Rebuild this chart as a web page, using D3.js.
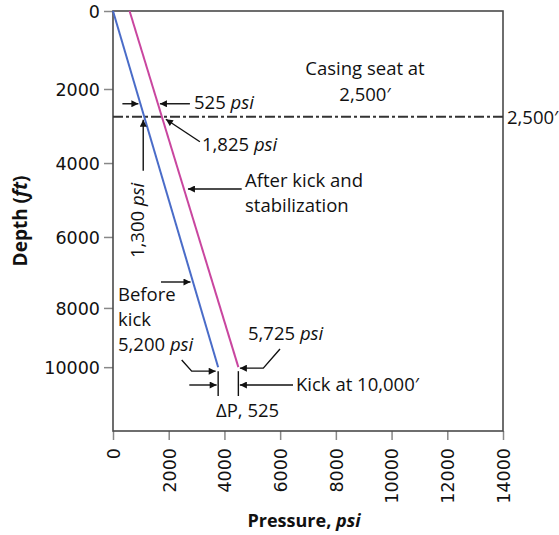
<!DOCTYPE html>
<html><head><meta charset="utf-8">
<script src="https://cdn.jsdelivr.net/npm/d3@7"></script>
<style>
body{margin:0;background:#fff;}
text{font-family:"Open Sans",sans-serif;fill:#111;}
</style></head>
<body><svg id="c" width="559" height="535"></svg>
<script>
// ---- data ----
const xTicks = [0, 2000, 4000, 6000, 8000, 10000, 12000, 14000];
const yTicks = [0, 2000, 4000, 6000, 8000, 10000];
const depthBreaks = [0, 2000, 4000, 6000, 8000, 10000, 12200];
const beforeKick = [{p: 0, d: 0}, {p: 3775, d: 10000}];
const afterKick = [{p: 595, d: 0}, {p: 4500, d: 10000}];
const casingDepth = 2750;

// ---- layout ----
const svg = d3.select("#c");
const L = 113, T = 11, W = 390, H = 420;
const depthFrac = [0, 0.1857, 0.362, 0.538, 0.707, 0.848, 1];
const x = d3.scaleLinear().domain([0, 14000]).range([L, L + W]);
const y = d3.scaleLinear().domain(depthBreaks).range(depthFrac.map(f => T + f * H));

// defs
svg.append("defs").append("marker").attr("id", "ah")
  .attr("viewBox", "0 0 10 10").attr("refX", 10).attr("refY", 5)
  .attr("markerWidth", 8).attr("markerHeight", 7).attr("markerUnits", "userSpaceOnUse")
  .attr("orient", "auto")
  .append("path").attr("d", "M0,0 L10,5 L0,10 Z").attr("fill", "#111");

// axes
const yAxis = d3.axisLeft(y).tickValues(yTicks).tickSize(9).tickFormat(d3.format("d"));
const gy = svg.append("g").attr("transform", `translate(${L},0)`).call(yAxis);
gy.select(".domain").remove();
gy.selectAll(".tick line").attr("stroke", "#888").attr("stroke-width", 1.5);
gy.selectAll(".tick text").attr("x", -13).attr("dy", "0.36em")
  .style("font-family", "DejaVu Sans").style("font-size", "17.5px").attr("fill", "#111");

const xAxis = d3.axisBottom(x).tickValues(xTicks).tickSize(9).tickFormat(d3.format("d"));
const gx = svg.append("g").attr("transform", `translate(0,${T + H})`).call(xAxis);
gx.select(".domain").remove();
gx.selectAll(".tick line").attr("stroke", "#888").attr("stroke-width", 1.5);
gx.selectAll(".tick text").attr("transform", "rotate(-90)")
  .attr("x", -17).attr("y", 0).attr("dy", "0.36em").attr("text-anchor", "end")
  .style("font-family", "DejaVu Sans").style("font-size", "17.5px").attr("fill", "#111");

// frame
svg.append("rect").attr("x", L).attr("y", T).attr("width", W).attr("height", H)
  .attr("fill", "none").attr("stroke", "#4a4a4a").attr("stroke-width", 1.6);

// casing line
const yc = y(casingDepth);
svg.append("line").attr("x1", L).attr("x2", L + W).attr("y1", yc).attr("y2", yc)
  .attr("stroke", "#333").attr("stroke-width", 2).attr("stroke-dasharray", "10,3,3,3");

// pressure lines
const line = d3.line().x(d => x(d.p)).y(d => y(d.d));
svg.append("path").datum(beforeKick).attr("d", line).attr("fill", "none")
  .attr("stroke", "#4a6cc8").attr("stroke-width", 2);
svg.append("path").datum(afterKick).attr("d", line).attr("fill", "none")
  .attr("stroke", "#c9469f").attr("stroke-width", 2);

// helpers
const B0 = [x(beforeKick[0].p), y(beforeKick[0].d)], B1 = [x(beforeKick[1].p), y(beforeKick[1].d)];
const P0 = [x(afterKick[0].p), y(afterKick[0].d)], P1 = [x(afterKick[1].p), y(afterKick[1].d)];
const atY = (a, b, yy) => a[0] + (yy - a[1]) / (b[1] - a[1]) * (b[0] - a[0]);
function arrow(pts) {
  svg.append("path").attr("d", d3.line()(pts)).attr("fill", "none")
    .attr("stroke", "#111").attr("stroke-width", 1.4).attr("marker-end", "url(#ah)");
}
function seg(x1, y1, x2, y2) {
  svg.append("line").attr("x1", x1).attr("y1", y1).attr("x2", x2).attr("y2", y2)
    .attr("stroke", "#111").attr("stroke-width", 1.4);
}
function txt(xx, yy, parts, anchor) {
  const t = svg.append("text").attr("x", xx).attr("y", yy).style("font-size", "18.5px")
    .attr("text-anchor", anchor || "start");
  parts.forEach(p => {
    const s = t.append("tspan").text(p[0]);
    if (p[1]) s.style("font-style", "italic");
  });
  return t;
}

const ya = yc - 13;
arrow([[atY(B0, B1, ya) - 18, ya], [atY(B0, B1, ya) - 2, ya]]);
arrow([[atY(P0, P1, ya) + 32, ya], [atY(P0, P1, ya) + 2, ya]]);
const bc = atY(B0, B1, yc), pc = atY(P0, P1, yc);
arrow([[pc + 38, yc + 25], [pc + 4, yc + 2.5]]);
arrow([[bc - 1, yc + 54], [bc - 1, yc + 3]]);
const yAfter = 189;
arrow([[241.7, yAfter], [atY(P0, P1, yAfter) + 4, yAfter]]);
const yBefore = 282;
arrow([[161, yBefore], [atY(B0, B1, yBefore) - 2.5, yBefore]]);
arrow([[181.7, 360], [191.7, B1[1] + 4], [B1[0] - 2.5, B1[1] + 4]]);
arrow([[280, 349], [263.3, P1[1] + 1], [P1[0] + 1.5, P1[1] + 1]]);
seg(B1[0], B1[1] + 4, B1[0], 396);
seg(P1[0], P1[1] + 4, P1[0], 396);
arrow([[189.3, 385], [B1[0] - 1.5, 385]]);
arrow([[293, 385], [P1[0] + 1.5, 385]]);

// texts
txt(365, 75, [["Casing seat at"]], "middle");
txt(365, 101, [["2,500\u2032"]], "middle");
txt(507, yc + 7, [["2,500\u2032"]]);
txt(194, 109, [["525 "], ["psi", 1]]);
txt(202, 151, [["1,825 "], ["psi", 1]]);
txt(0, 0, [["1,300 "], ["psi", 1]]).attr("transform", "translate(144,258) rotate(-90)");
txt(245, 187, [["After kick and"]]);
txt(245, 212, [["stabilization"]]);
txt(118, 301, [["Before"]]);
txt(118, 326, [["kick"]]);
txt(118, 351, [["5,200 "], ["psi", 1]]);
txt(248, 340, [["5,725 "], ["psi", 1]]);
txt(296, 391, [["Kick at 10,000\u2032"]]);
txt(216, 417, [["\u0394P, 525"]]);

// axis titles
const ty = svg.append("text").attr("transform", "translate(27,221) rotate(-90)")
  .attr("text-anchor", "middle").style("font-size", "19px").style("font-weight", "bold");
ty.append("tspan").text("Depth (");
ty.append("tspan").text("ft").style("font-style", "italic");
ty.append("tspan").text(")");
const tx = svg.append("text").attr("x", 304).attr("y", 527)
  .attr("text-anchor", "middle").style("font-size", "18px").style("font-weight", "bold");
tx.append("tspan").text("Pressure, ");
tx.append("tspan").text("psi").style("font-style", "italic");
</script></body></html>
